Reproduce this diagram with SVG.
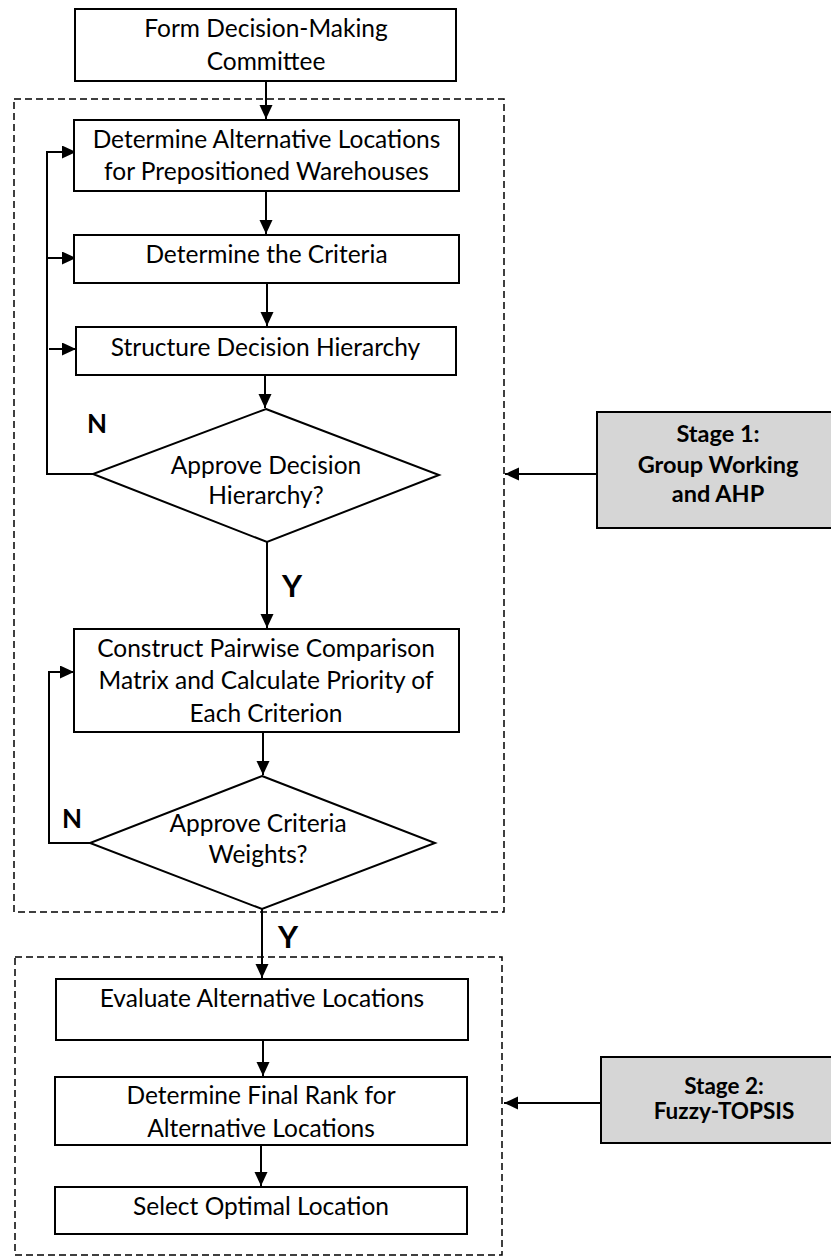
<svg xmlns="http://www.w3.org/2000/svg" width="831" height="1258" viewBox="0 0 831 1258">
<defs>
<marker id="ah" markerUnits="userSpaceOnUse" markerWidth="15" markerHeight="14" refX="14" refY="6.5" orient="auto">
<path d="M0,0 L14,6.5 L0,13 z" fill="#000"/>
</marker>
<style>
.box{fill:#fff;stroke:#000;stroke-width:2}
.stage{fill:#d6d6d6;stroke:#000;stroke-width:2}
.dash{fill:none;stroke:#000;stroke-width:1.5;stroke-dasharray:7,4}
.t{font-family:Lato,"Open Sans",sans-serif;font-size:24.5px;fill:#000;text-anchor:middle}
.b{font-family:Lato,"Open Sans",sans-serif;font-weight:bold;fill:#000}
.sb{font-family:Lato,"Open Sans",sans-serif;font-weight:bold;fill:#000;text-anchor:middle}
.c{fill:none;stroke:#000;stroke-width:2}
</style>
</defs>
<rect width="831" height="1258" fill="#fff"/>
<g id="stage1-frame"><rect class="dash" x="14" y="99" width="490" height="813"/></g>
<g id="stage2-frame"><rect class="dash" x="15" y="957" width="487" height="298"/></g>
<g id="connectors">
<path class="c" d="M266,81 V119" marker-end="url(#ah)"/>
<path class="c" d="M266,191 V234" marker-end="url(#ah)"/>
<path class="c" d="M267,283 V326" marker-end="url(#ah)"/>
<path class="c" d="M265,375 V408" marker-end="url(#ah)"/>
<path class="c" d="M93,474 H47 V152 H76" marker-end="url(#ah)"/>
<path class="c" d="M47,258 H76" marker-end="url(#ah)"/>
<path class="c" d="M49,349 H76" marker-end="url(#ah)"/>
<path class="c" d="M267,542 V628" marker-end="url(#ah)"/>
<path class="c" d="M263,732 V775" marker-end="url(#ah)"/>
<path class="c" d="M90,843 H49 V672 H74" marker-end="url(#ah)"/>
<path class="c" d="M262,909 V978" marker-end="url(#ah)"/>
<path class="c" d="M263,1040 V1076" marker-end="url(#ah)"/>
<path class="c" d="M261,1145 V1186" marker-end="url(#ah)"/>
<path class="c" d="M597,474 H505" marker-end="url(#ah)"/>
<path class="c" d="M601,1103 H504" marker-end="url(#ah)"/>
<text class="b" x="87" y="433" font-size="26">N</text>
<text class="b" x="282" y="597" font-size="31">Y</text>
<text class="b" x="62" y="828" font-size="26">N</text>
<text class="b" x="278" y="948" font-size="31">Y</text>
</g>
<g id="n1"><rect class="box" x="75" y="9" width="381" height="72"/>
<text class="t" x="266" y="37">Form Decision-Making</text><text class="t" x="266" y="70">Committee</text></g>
<g id="n2"><rect class="box" x="74" y="120" width="385" height="71"/>
<text class="t" x="266.5" y="148">Determine Alternative Locations</text><text class="t" x="266.5" y="180">for Prepositioned Warehouses</text></g>
<g id="n3"><rect class="box" x="74" y="235" width="385" height="48"/>
<text class="t" x="266.5" y="263">Determine the Criteria</text></g>
<g id="n4"><rect class="box" x="76" y="327" width="380" height="48"/>
<text class="t" x="265.5" y="356">Structure Decision Hierarchy</text></g>
<g id="n5"><polygon class="box" points="266,409 439,475 267,542 93,474"/>
<text class="t" x="266" y="474">Approve Decision</text><text class="t" x="266" y="504">Hierarchy?</text></g>
<g id="n6"><rect class="box" x="74" y="629" width="385" height="103"/>
<text class="t" x="266" y="657">Construct Pairwise Comparison</text><text class="t" x="266" y="689">Matrix and Calculate Priority of</text><text class="t" x="266" y="722">Each Criterion</text></g>
<g id="n7"><polygon class="box" points="262,776 435,843 262,909 90,843"/>
<text class="t" x="258" y="832">Approve Criteria</text><text class="t" x="258" y="863">Weights?</text></g>
<g id="n8"><rect class="box" x="56" y="979" width="412" height="61"/>
<text class="t" x="262" y="1007">Evaluate Alternative Locations</text></g>
<g id="n9"><rect class="box" x="55" y="1077" width="412" height="68"/>
<text class="t" x="261" y="1104">Determine Final Rank for</text><text class="t" x="261" y="1137">Alternative Locations</text></g>
<g id="n10"><rect class="box" x="55" y="1187" width="412" height="47"/>
<text class="t" x="261" y="1215">Select Optimal Location</text></g>
<g id="stage1"><rect class="stage" x="597" y="412" width="245" height="116"/>
<text class="sb" x="718" y="442" font-size="23.5">Stage 1:</text><text class="sb" x="718" y="473" font-size="23.5">Group Working</text><text class="sb" x="718" y="502" font-size="23.5">and AHP</text></g>
<g id="stage2"><rect class="stage" x="601" y="1057" width="245" height="86"/>
<text class="sb" x="724" y="1094" font-size="22.5">Stage 2:</text><text class="sb" x="724" y="1119" font-size="22.5">Fuzzy-TOPSIS</text></g>
</svg>
